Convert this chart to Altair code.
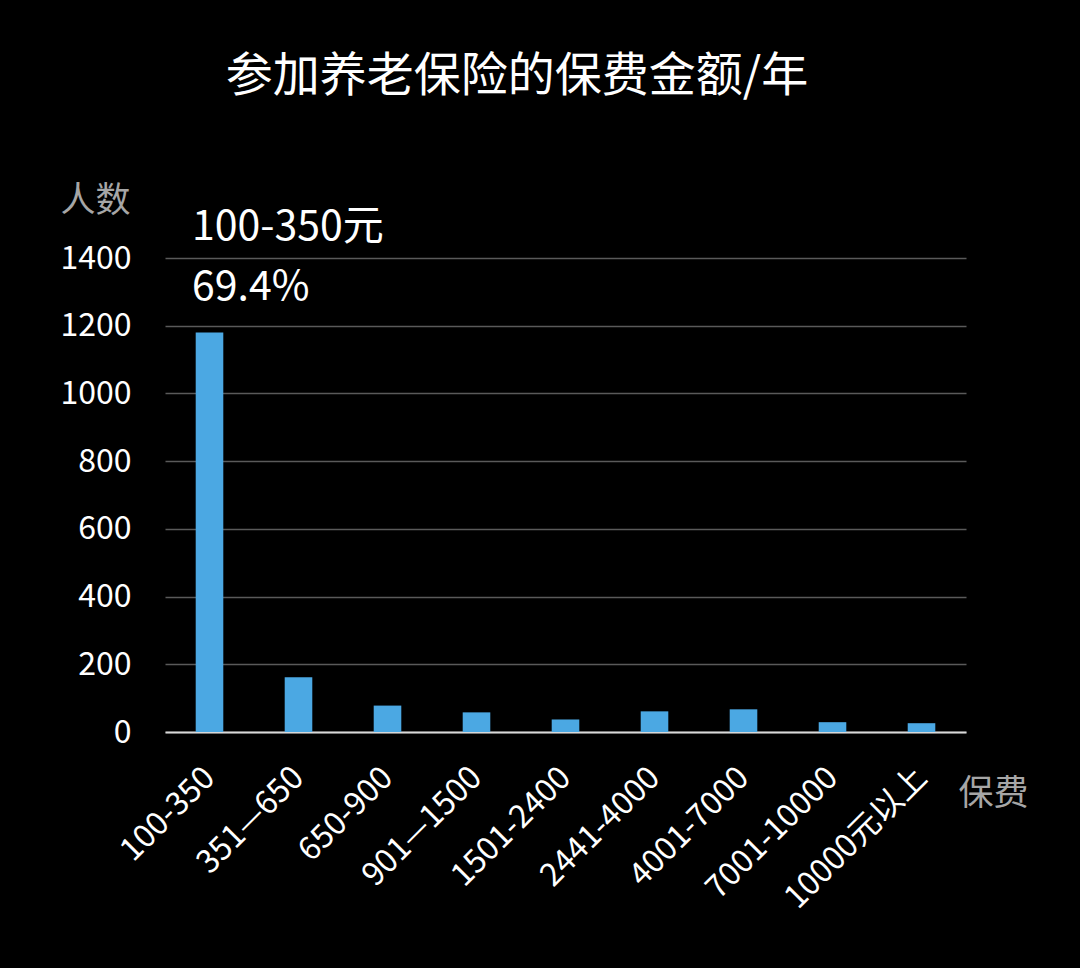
import altair as alt
import pandas as pd

categories = ["100-350", "351—650", "650-900", "901—1500", "1501-2400",
              "2441-4000", "4001-7000", "7001-10000", "10000元以上"]
counts = [1180, 162, 78, 58, 37, 61, 67, 29, 26]
y_ticks = [0, 200, 400, 600, 800, 1000, 1200, 1400]
annotation_lines = ["100-350元", "69.4%"]
title_text = "参加养老保险的保费金额/年"

FONT = "Noto Sans CJK SC"

df = pd.DataFrame({"cat": categories, "n": counts})

bars = alt.Chart(df).mark_bar(color="#4BA8E3").encode(
    x=alt.X("cat:N", sort=None,
            scale=alt.Scale(paddingInner=0.69, paddingOuter=0.345),
            axis=alt.Axis(title="保费", titleColor="#A6A6A6", titleFont=FONT,
                          titleFontSize=35, titleFontWeight="normal",
                          titleAngle=0, titleX=828, titleY=61,
                          titleAlign="center", titleBaseline="middle",
                          labelAngle=-45, labelAlign="right", labelBaseline="middle",
                          labelColor="white", labelFont=FONT, labelFontSize=32,
                          labelPadding=40, labelOffset=0, labelLimit=0, ticks=False,
                          domainColor="#D9D9D9", domainWidth=2)),
    y=alt.Y("n:Q", scale=alt.Scale(domain=[0, 1400], nice=False),
            axis=alt.Axis(values=y_ticks, format="d", title="人数", titleColor="#A6A6A6",
                          titleFont=FONT, titleFontSize=35, titleFontWeight="normal",
                          titleAngle=0, titleX=-70, titleY=-58,
                          titleAlign="center", titleBaseline="middle",
                          labelColor="white", labelFont=FONT, labelFontSize=32,
                          labelPadding=34, ticks=False, domain=False,
                          gridColor="#5A5A5A", gridWidth=1.5)),
)

ann_df = pd.DataFrame({"t": annotation_lines, "row": [0, 1]})
ann = alt.Chart(ann_df).mark_text(
    color="white", font=FONT, fontSize=41, align="left", baseline="middle"
).encode(
    text="t:N",
    x=alt.value(27),
    y=alt.Y("row:Q", scale=alt.Scale(domain=[0, 1], range=[-30, 30]), axis=None),
)

title = alt.Chart(pd.DataFrame({"t": [title_text]})).mark_text(
    color="white", font=FONT, fontSize=47, align="center", baseline="middle"
).encode(text="t:N", x=alt.value(352), y=alt.value(-181))

chart = alt.layer(bars, ann, title).resolve_scale(y="independent").properties(
    width=801, height=474,
    background="black",
    padding={"left": 165, "top": 258, "right": 114, "bottom": 236},
    autosize=alt.AutoSizeParams(type="none"),
).configure_view(stroke=None)

chart.save("out.html", embed_options={"renderer": "svg", "actions": False})
